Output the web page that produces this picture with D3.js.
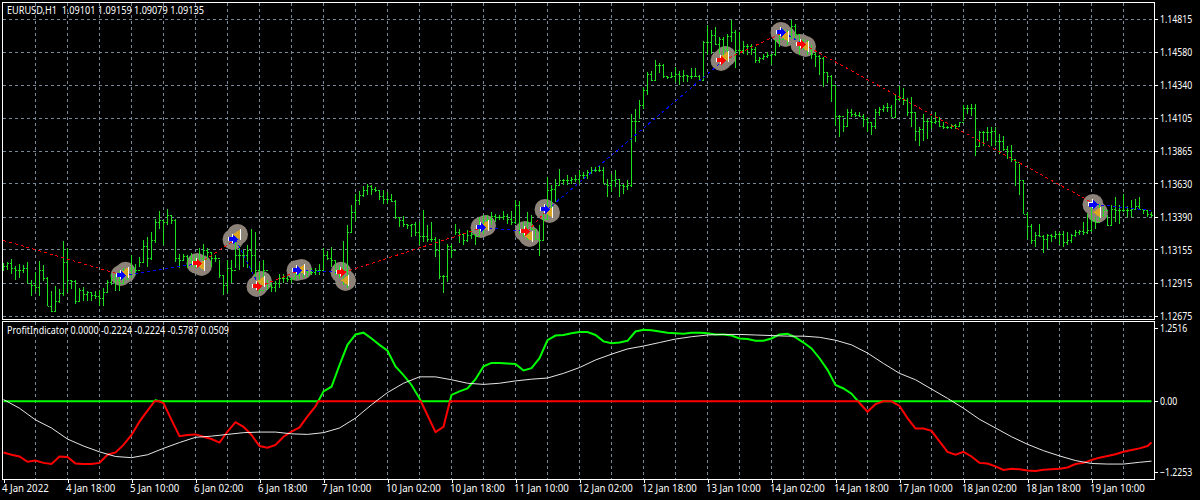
<!DOCTYPE html>
<html><head><meta charset="utf-8">
<style>
html,body{margin:0;padding:0;background:#000;overflow:hidden}
text{font-family:"Noto Sans",sans-serif;font-size:10.5px;fill:#fff;white-space:pre}
</style>
<script src="https://cdn.jsdelivr.net/npm/d3@7/dist/d3.min.js"></script>
</head><body><svg id="c" width="1200" height="500"></svg>
<script>
// Prices are stored as points above 1.12000
const BASE = 1.12;
const highPts = [1057,1065,1086,1036,1050,1043,1065,935,993,1072,
1043,957,856,892,870,1216,1165,935,935,877,
885,856,849,856,863,877,935,978,985,1000,
1021,1021,1115,1050,1101,1223,1245,1281,1374,1432,
1367,1453,1403,1381,1122,1122,1115,1129,1115,1165,
1194,1165,1129,1115,1079,964,1079,1079,1209,1187,
1151,1187,1309,1281,1065,1079,935,913,928,978,
978,971,957,985,1007,1029,1007,1021,1021,1050,
1165,1144,1173,1072,1043,1216,1331,1475,1561,1576,
1612,1633,1626,1605,1583,1583,1569,1561,1511,1389,
1396,1345,1345,1353,1353,1439,1331,1353,1245,1237,
971,1194,1194,1338,1309,1273,1295,1295,1259,1389,
1403,1403,1425,1417,1403,1432,1417,1432,1511,1504,
1353,1425,1403,1295,1331,1417,1677,1619,1669,1741,
1669,1691,1677,1691,1727,1713,1727,1749,1749,1763,
1749,1669,1705,1727,1669,1633,1655,2137,2167,2232,
2326,2434,2441,2520,2498,2491,2405,2434,2470,2441,
2448,2412,2462,2462,2412,2657,2772,2736,2758,2686,
2686,2714,2815,2736,2722,2657,2642,2642,2614,2542,
2570,2578,2570,2678,2722,2750,2736,2815,2786,2714,
2678,2664,2628,2578,2556,2542,2434,2412,2340,2130,
2101,2167,2167,2145,2145,2137,2109,2073,2167,2182,
2196,2210,2196,2268,2333,2318,2246,2254,2145,2044,
2137,2101,2123,2145,2109,2073,2051,2065,2065,2080,
2196,2196,2203,2203,2015,2008,2037,2037,2044,1993,
1979,1907,1914,1813,1777,1662,1425,1345,1281,1338,
1259,1273,1266,1288,1281,1288,1281,1273,1295,1295,
1353,1417,1461,1389,1489,1461,1403,1475,1533,1475,
1561,1468,1511,1525,1533,1453,1439,1425];
const lowPts = [1000,1007,978,935,949,985,913,820,849,820,
928,754,704,718,769,820,841,870,762,776,
790,790,790,798,754,754,841,899,856,856,
913,935,949,971,1029,1057,1029,1079,1201,1309,
1187,1331,1345,1065,1021,1079,1021,1029,1021,1057,
1065,1079,1029,1065,949,827,841,913,1021,1007,
1029,1021,993,957,841,913,863,849,849,877,
913,921,913,935,942,949,957,971,971,971,
1007,1079,1029,971,949,899,877,1281,1360,1475,
1533,1554,1554,1569,1511,1489,1489,1497,1381,1317,
1317,1309,1245,1252,1187,1209,1209,1209,1101,942,
841,921,1093,1259,1201,1187,1209,1237,1187,1259,
1273,1309,1331,1353,1367,1367,1345,1331,1345,1273,
1245,1223,1295,1223,1108,1216,1381,1439,1497,1619,
1619,1619,1633,1641,1633,1669,1669,1705,1713,1713,
1633,1533,1569,1605,1533,1561,1590,1605,1929,2101,
2167,2268,2369,2369,2426,2390,2383,2390,2362,2340,
2362,2362,2383,2398,2369,2369,2556,2570,2628,2570,
2542,2542,2650,2462,2556,2570,2556,2556,2498,2498,
2520,2534,2484,2549,2614,2664,2628,2678,2664,2556,
2592,2556,2527,2470,2412,2326,2354,2218,2051,1965,
2001,2051,2109,2109,2109,2037,2001,1986,2029,2123,
2145,2152,2109,2109,2225,2196,2123,2044,1943,1900,
1943,1957,2029,2065,2037,2029,2029,2029,2029,2044,
2087,2137,2123,1835,1907,1907,1943,1907,1907,1849,
1871,1813,1785,1612,1547,1410,1237,1194,1173,1245,
1129,1158,1209,1237,1187,1173,1187,1201,1245,1259,
1259,1273,1281,1309,1367,1389,1324,1324,1353,1345,
1425,1389,1389,1453,1446,1417,1389,1389];
const closePts = [1036,1057,1021,1007,1007,1021,913,899,885,1007,
949,754,718,790,841,1065,935,928,790,863,
834,849,827,820,805,849,921,949,935,913,
971,1007,1021,1007,1065,1180,1093,1223,1353,1367,
1353,1403,1367,1093,1079,1108,1093,1079,1065,1093,
1151,1137,1093,1093,971,899,1021,1007,1115,1115,
1115,1151,1115,1007,863,1007,899,885,913,949,
949,942,949,971,993,1000,993,993,1007,1007,
1115,1093,1079,1007,993,1007,1281,1425,1511,1547,
1583,1612,1597,1590,1540,1525,1525,1504,1389,1367,
1338,1331,1338,1281,1252,1252,1237,1237,1151,964,
964,1180,1151,1281,1266,1223,1259,1266,1252,1295,
1367,1381,1396,1389,1389,1396,1374,1353,1475,1309,
1281,1353,1309,1237,1223,1381,1583,1597,1626,1655,
1655,1655,1669,1669,1691,1691,1713,1727,1727,1727,
1633,1626,1655,1669,1619,1612,1626,2087,2087,2196,
2304,2419,2376,2484,2484,2405,2398,2405,2419,2405,
2412,2405,2405,2405,2376,2650,2650,2700,2635,2678,
2606,2693,2722,2592,2592,2621,2621,2599,2520,2534,
2549,2556,2563,2664,2678,2722,2693,2765,2707,2664,
2628,2592,2563,2549,2534,2434,2405,2340,2123,2123,
2051,2145,2137,2130,2123,2101,2073,2051,2145,2167,
2182,2182,2116,2239,2246,2232,2145,2145,2015,2029,
2087,2087,2073,2087,2051,2044,2044,2058,2051,2073,
2174,2174,2174,1907,2001,2001,2001,2015,1943,1943,
1885,1871,1813,1785,1655,1417,1324,1223,1259,1252,
1237,1259,1252,1266,1273,1209,1223,1259,1281,1288,
1281,1295,1367,1353,1403,1439,1331,1453,1439,1439,
1439,1439,1453,1468,1453,1439,1410,1403];

const priceTicks = [1.14815,1.14580,1.14340,1.14105,1.13865,1.13630,1.13390,1.13155,1.12915,1.12675];
const timeLabels = ["4 Jan 2022","4 Jan 18:00","5 Jan 10:00","6 Jan 02:00","6 Jan 18:00","7 Jan 10:00","10 Jan 02:00","10 Jan 18:00","11 Jan 10:00","12 Jan 02:00","12 Jan 18:00","13 Jan 10:00","14 Jan 02:00","14 Jan 18:00","17 Jan 10:00","18 Jan 02:00","18 Jan 18:00","19 Jan 10:00"];

// Trades: bar index, arrow price and exit-triangle price, in points above BASE
const tradeBars = [30,49,58,64,74,85,120,131,136,180,195,200,273];
const arrowPts = [971,1057,1230,892,1007,993,1317,1288,1446,2520,2722,2635,1482];
const trianglePts = [993,1043,1266,928,1014,935,1331,1252,1425,2549,2693,2621,1425];
const arrowKinds = ["buy","sell","buy","sell","buy","sell","buy","sell","buy","sell","buy","sell","buy"];
const tradeLineStartPts = 1223;
const tradeLineEndPts = 1439;

// ProfitIndicator: main value every second bar, plus the last bar
const mainValues = [-0.88,-0.92,-0.95,-1.04,-1.02,-1.06,-1.08,-0.95,-0.96,-1.07,-1.08,-1.08,-1.06,-0.92,-0.88,-0.75,-0.58,-0.35,-0.16,0.02,
-0.03,-0.32,-0.60,-0.58,-0.57,-0.61,-0.65,-0.71,-0.52,-0.36,-0.44,-0.58,-0.77,-0.80,-0.75,-0.61,-0.52,-0.45,-0.26,-0.09,
0.17,0.25,0.62,0.97,1.15,1.18,1.08,0.97,0.87,0.60,0.45,0.28,0.05,-0.24,-0.53,-0.44,0.11,0.17,0.22,0.38,
0.60,0.66,0.66,0.65,0.64,0.53,0.57,0.74,1.05,1.13,1.14,1.17,1.19,1.19,1.14,1.03,1.00,1.01,1.04,1.20,
1.23,1.22,1.20,1.18,1.17,1.16,1.18,1.18,1.17,1.15,1.15,1.13,1.08,1.07,1.04,1.04,1.08,1.15,1.16,1.10,
1.01,0.91,0.74,0.54,0.28,0.22,0.13,-0.03,-0.18,-0.05,0.00,0.00,-0.08,-0.29,-0.47,-0.47,-0.51,-0.69,-0.87,-0.92,
-0.87,-0.95,-1.06,-1.07,-1.12,-1.18,-1.16,-1.17,-1.19,-1.20,-1.18,-1.17,-1.16,-1.14,-1.08,-1.06,-1.01,-0.97,-0.94,-0.91,
-0.87,-0.84,-0.81,-0.77,-0.71];
// White signal line: value every fourth bar, plus the last bar
const signalValues = [0.03,-0.12,-0.32,-0.46,-0.65,-0.77,-0.87,-0.95,-0.97,-0.92,-0.81,-0.71,-0.62,-0.60,-0.57,-0.54,-0.53,-0.53,-0.56,-0.57,
-0.54,-0.46,-0.29,-0.06,0.15,0.31,0.42,0.42,0.37,0.31,0.29,0.31,0.35,0.38,0.40,0.48,0.58,0.71,0.81,0.90,
0.95,1.01,1.07,1.11,1.14,1.15,1.15,1.14,1.13,1.12,1.12,1.10,1.05,0.97,0.83,0.65,0.48,0.37,0.21,0.05,
-0.12,-0.31,-0.46,-0.61,-0.74,-0.85,-0.94,-1.02,-1.07,-1.08,-1.08,-1.05,-1.03];
const indicatorTicks = [1.2516,0,-1.2253];

const BAR_COUNT = highPts.length;
const px = p => BASE + p / 100000;
const svg = d3.select("#c");
svg.append("rect").attr("width",1200).attr("height",500).attr("fill","#000");

const x = d3.scaleLinear().domain([0,287]).range([3.5,1151.5]);
const y = d3.scaleLinear().domain([1.14815,1.12675]).range([19.5,316.5]);
const yi = d3.scaleLinear().domain([1.2516,-1.2253]).range([328.5,472.5]);

const GRID = "#778899";
const gridBars = d3.range(8, BAR_COUNT, 8);
const grid = svg.append("g").attr("shape-rendering","crispEdges").attr("stroke",GRID).attr("stroke-dasharray","3,3");
grid.selectAll(".h").data(priceTicks).join("line").attr("class","h")
  .attr("x1",3).attr("x2",1154).attr("y1",d=>Math.floor(y(d))+.5).attr("y2",d=>Math.floor(y(d))+.5);
grid.selectAll(".v").data(gridBars).join("line").attr("class","v")
  .attr("x1",d=>x(d)).attr("x2",d=>x(d)).attr("y1",3).attr("y2",319);
grid.selectAll(".w").data(gridBars).join("line").attr("class","w")
  .attr("x1",d=>x(d)).attr("x2",d=>x(d)).attr("y1",322).attr("y2",479);

// grey blobs behind the bars
const trades = tradeBars.map((b,i)=>({b,a:px(arrowPts[i]),t:px(trianglePts[i]),k:arrowKinds[i]}));
const blob = svg.append("g").attr("fill","#8c8278");
blob.selectAll(".a").data(trades).join("circle").attr("class","a")
  .attr("cx",d=>x(d.b)-2.5).attr("cy",d=>y(d.a)).attr("r",10.5);
blob.selectAll(".t").data(trades).join("circle").attr("class","t")
  .attr("cx",d=>x(d.b)+2).attr("cy",d=>y(d.t)).attr("r",10.5);

// OHLC bars
const bars = svg.append("g").attr("shape-rendering","crispEdges").attr("stroke","#1fe01f");
d3.range(BAR_COUNT).forEach(i=>{
  const X = x(i), o = px(i? closePts[i-1] : closePts[i]), c = px(closePts[i]);
  bars.append("line").attr("x1",X).attr("x2",X).attr("y1",y(px(highPts[i]))).attr("y2",y(px(lowPts[i])));
  bars.append("line").attr("x1",X-1.5).attr("x2",X).attr("y1",Math.round(y(o))+.5).attr("y2",Math.round(y(o))+.5);
  bars.append("line").attr("x1",X).attr("x2",X+1.5).attr("y1",Math.round(y(c))+.5).attr("y2",Math.round(y(c))+.5);
});

// trade connector lines, red and blue alternating
const nodes = [{b:0,p:px(tradeLineStartPts)}, ...trades.map(d=>({b:d.b,p:d.a})), {b:287,p:px(tradeLineEndPts)}];
const conn = svg.append("g").attr("fill","none").attr("stroke-width",1).attr("stroke-dasharray","3,3").attr("shape-rendering","crispEdges");
d3.pairs(nodes).forEach((pr,i)=>{
  conn.append("line").attr("x1",x(pr[0].b)).attr("y1",y(pr[0].p)).attr("x2",x(pr[1].b)).attr("y2",y(pr[1].p))
    .attr("stroke", i%2===0 ? "#ff0000" : "#0000ff");
});

// markers
const mk = svg.append("g").attr("shape-rendering","crispEdges");
mk.selectAll(".trw").data(trades).join("line").attr("class","trw")
  .attr("x1",d=>x(d.b)+5).attr("x2",d=>x(d.b)+5)
  .attr("y1",d=>y(d.t)-5.5).attr("y2",d=>y(d.t)+5.5).attr("stroke","#fff");
mk.selectAll(".tri").data(trades).join("path").attr("class","tri")
  .attr("transform",d=>`translate(${x(d.b)+2},${y(d.t)})`)
  .attr("d","M-4.5,0L2.5,-5L2.5,5Z").attr("fill","#daa520");
const arrowShape = "M-4.5,-2L-.5,-2L-.5,-5.5L5,0L-.5,5.5L-.5,2L-4.5,2Z";
mk.selectAll(".aro").data(trades).join("path").attr("class","aro")
  .attr("transform",d=>`translate(${x(d.b)-3.5},${y(d.a)-.8})`)
  .attr("d",arrowShape).attr("fill","#fff");
mk.selectAll(".arr").data(trades).join("path").attr("class","arr")
  .attr("transform",d=>`translate(${x(d.b)-2.5},${y(d.a)})`)
  .attr("d",arrowShape).attr("fill",d=>d.k==="buy"?"#0000ff":"#ff0000");

// indicator
const mainBars = [...d3.range(0,BAR_COUNT,2), 287];
const signalBars = [...d3.range(0,BAR_COUNT,4), 287];
const line = d3.line().x(d=>x(d[0])).y(d=>yi(d[1]));
const mainPts = mainValues.map((v,i)=>[mainBars[i],v]);
// add the zero crossings so both halves meet on the zero line
const pos=[],neg=[];
mainPts.forEach((p,i)=>{
  const q = mainPts[i-1];
  if(q && q[1]*p[1]<0){const bx=q[0]+(p[0]-q[0])*q[1]/(q[1]-p[1]);pos.push([bx,0]);neg.push([bx,0]);}
  pos.push([p[0],Math.max(p[1],0)]);neg.push([p[0],Math.min(p[1],0)]);
});
svg.append("path").attr("d",line(pos)).attr("fill","none").attr("stroke","#00ff00").attr("stroke-width",2);
svg.append("path").attr("d",line(neg)).attr("fill","none").attr("stroke","#ff0000").attr("stroke-width",2);
svg.append("path").attr("d",line(signalValues.map((v,i)=>[signalBars[i],v]))).attr("fill","none").attr("stroke","#fff").attr("stroke-width",.9);

// frames
const frame = svg.append("g").attr("fill","none").attr("stroke","#fff").attr("shape-rendering","crispEdges");
frame.append("rect").attr("x",2.5).attr("y",2.5).attr("width",1152).attr("height",317);
frame.append("rect").attr("x",2.5).attr("y",321.5).attr("width",1152).attr("height",158);

// axes
const fontStyle = sel => sel.style("fill","#fff").style("font-family",'"Noto Sans",sans-serif').style("font-size","10.5px");
const squeeze = (sel,f) => sel.each(function(){
  const w = this.getComputedTextLength();
  this.setAttribute("textLength", w*f);
  this.setAttribute("lengthAdjust","spacingAndGlyphs");
});
const fmt5 = d3.format(".5f");
const ra = d3.axisRight(y).tickValues(priceTicks).tickFormat(fmt5).tickSize(0).tickPadding(0);
const ga = svg.append("g").attr("transform","translate(1160,0)").call(ra);
ga.select(".domain").remove();
fontStyle(ga.selectAll("text")); squeeze(ga.selectAll("text"),.83);
const gi = svg.append("g").attr("transform","translate(1160,0)").call(
  d3.axisRight(yi).tickValues(indicatorTicks).tickFormat(d=>d===0?"0.00":d3.format(".4f")(d)).tickSize(0).tickPadding(0)
);
gi.select(".domain").remove();
fontStyle(gi.selectAll("text")); squeeze(gi.selectAll("text"),.83);
const tickBars = d3.range(0,BAR_COUNT,16);
const xa = d3.axisBottom(x).tickValues(tickBars).tickFormat((d,i)=>timeLabels[i]).tickSize(3).tickPadding(2);
const gx = svg.append("g").attr("transform","translate(0,480)").call(xa);
gx.select(".domain").remove();
gx.selectAll("line").attr("stroke","#fff").attr("shape-rendering","crispEdges");
gx.selectAll("text").attr("text-anchor","start").attr("dx",-2);
fontStyle(gx.selectAll("text")); squeeze(gx.selectAll("text"),.92);
// right ticks
svg.append("g").attr("stroke","#fff").attr("shape-rendering","crispEdges")
  .selectAll("line").data([...priceTicks.map(y),...indicatorTicks.map(yi)]).join("line")
  .attr("x1",1154).attr("x2",1158).attr("y1",d=>Math.floor(d)+.5).attr("y2",d=>Math.floor(d)+.5);

squeeze(svg.append("text").attr("x",7).attr("y",14).text("EURUSD,H1  1.09101 1.09159 1.09079 1.09135"),.87);
squeeze(svg.append("text").attr("x",7).attr("y",334).text("ProfitIndicator 0.0000 -0.2224 -0.2224 -0.5787 0.0509"),.855);
</script></body></html>
